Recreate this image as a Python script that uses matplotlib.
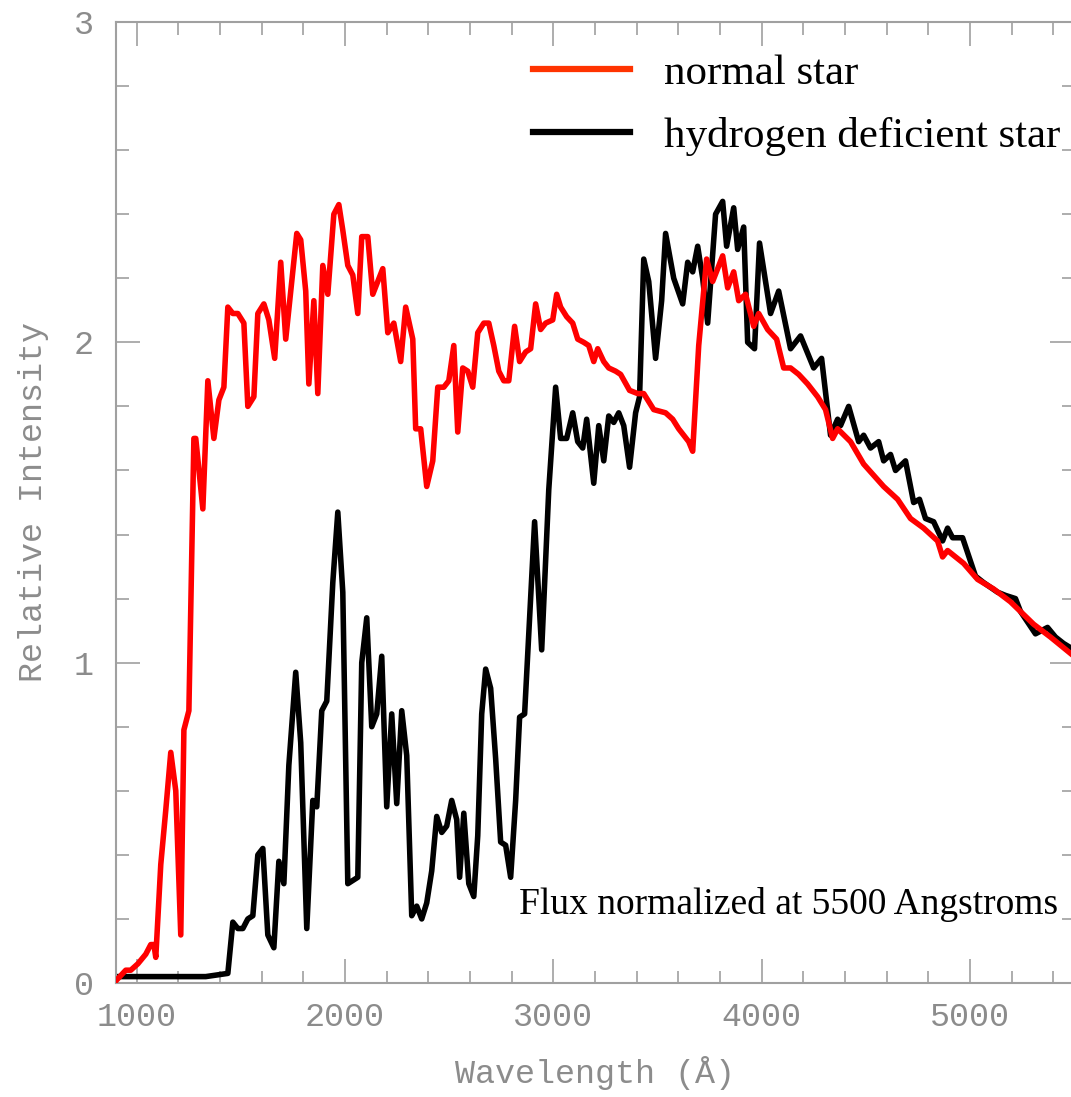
import matplotlib
matplotlib.use("Agg")
import matplotlib.pyplot as plt
from matplotlib.lines import Line2D
from matplotlib.ticker import MultipleLocator

# ---- data ----
normal_wl = [904, 947, 971, 1005, 1043, 1067, 1082, 1091, 1115, 1139, 1163, 1187, 1211,
             1226, 1250, 1274, 1283, 1317, 1341, 1370, 1394, 1418, 1437, 1461, 1485, 1514,
             1533, 1562, 1581, 1610, 1634, 1662, 1691, 1715, 1739, 1768, 1787, 1811, 1826,
             1850, 1869, 1893, 1917, 1946, 1970, 1989, 2013, 2037, 2061, 2080, 2109, 2133,
             2157, 2181, 2205, 2234, 2267, 2291, 2325, 2339, 2363, 2392, 2421, 2445, 2474,
             2498, 2522, 2541, 2565, 2589, 2613, 2637, 2666, 2690, 2714, 2738, 2762, 2786,
             2814, 2838, 2867, 2891, 2915, 2939, 2963, 2997, 3016, 3035, 3064, 3093, 3117,
             3146, 3170, 3194, 3213, 3242, 3266, 3299, 3323, 3366, 3405, 3434, 3482, 3539,
             3573, 3602, 3626, 3650, 3669, 3698, 3736, 3765, 3813, 3837, 3866, 3890, 3923,
             3962, 3986, 4029, 4072, 4106, 4139, 4178, 4221, 4269, 4307, 4341, 4365, 4427,
             4490, 4586, 4653, 4715, 4778, 4845, 4869, 4893, 4970, 5037, 5114, 5195, 5306,
             5387, 5500]
normal_flux = [0.01, 0.04, 0.04, 0.06, 0.09, 0.12, 0.12, 0.08, 0.37, 0.54, 0.72, 0.60, 0.15,
               0.79, 0.85, 1.70, 1.70, 1.48, 1.88, 1.70, 1.82, 1.86, 2.11, 2.09, 2.09, 2.06,
               1.80, 1.83, 2.09, 2.12, 2.07, 1.95, 2.25, 2.01, 2.16, 2.34, 2.32, 2.16, 1.87,
               2.13, 1.84, 2.24, 2.15, 2.40, 2.43, 2.35, 2.24, 2.21, 2.09, 2.33, 2.33, 2.15,
               2.19, 2.23, 2.03, 2.06, 1.94, 2.11, 2.01, 1.73, 1.73, 1.55, 1.63, 1.86, 1.86,
               1.88, 1.99, 1.72, 1.92, 1.91, 1.86, 2.03, 2.06, 2.06, 1.99, 1.91, 1.88, 1.88,
               2.05, 1.94, 1.97, 1.98, 2.12, 2.04, 2.06, 2.07, 2.15, 2.11, 2.08, 2.06, 2.01,
               2.00, 1.99, 1.94, 1.98, 1.94, 1.92, 1.91, 1.90, 1.85, 1.84, 1.84, 1.79, 1.78,
               1.76, 1.73, 1.71, 1.69, 1.66, 1.99, 2.26, 2.19, 2.27, 2.17, 2.22, 2.13, 2.15,
               2.05, 2.09, 2.04, 2.01, 1.92, 1.92, 1.90, 1.87, 1.83, 1.79, 1.70, 1.73, 1.69,
               1.62, 1.55, 1.51, 1.45, 1.42, 1.38, 1.33, 1.35, 1.31, 1.26, 1.23, 1.19, 1.12,
               1.08, 1.02]

hdef_wl = [904, 1211, 1331, 1437, 1461, 1485, 1509, 1533, 1557, 1581, 1605, 1629, 1658,
           1682, 1706, 1730, 1763, 1787, 1816, 1845, 1864, 1888, 1912, 1941, 1965, 1989,
           2013, 2037, 2061, 2080, 2104, 2128, 2152, 2176, 2200, 2224, 2248, 2272, 2296,
           2320, 2344, 2368, 2392, 2416, 2440, 2464, 2488, 2512, 2536, 2550, 2570, 2594,
           2618, 2637, 2656, 2675, 2699, 2723, 2747, 2771, 2795, 2819, 2838, 2862, 2910,
           2944, 2978, 3011, 3035, 3064, 3093, 3117, 3141, 3160, 3194, 3218, 3242, 3266,
           3290, 3314, 3338, 3366, 3395, 3414, 3434, 3458, 3491, 3520, 3539, 3578, 3621,
           3645, 3669, 3693, 3717, 3741, 3779, 3813, 3832, 3866, 3885, 3914, 3933, 3966,
           3990, 4043, 4082, 4139, 4187, 4250, 4288, 4331, 4365, 4379, 4418, 4466, 4490,
           4523, 4562, 4586, 4619, 4643, 4691, 4730, 4758, 4787, 4826, 4869, 4893, 4917,
           4965, 5027, 5066, 5133, 5171, 5219, 5243, 5315, 5373, 5411, 5450, 5500]
hdef_flux = [0.02, 0.02, 0.02, 0.03, 0.19, 0.17, 0.17, 0.20, 0.21, 0.40, 0.42, 0.15, 0.11,
             0.38, 0.31, 0.68, 0.97, 0.75, 0.17, 0.57, 0.55, 0.85, 0.88, 1.25, 1.47, 1.22,
             0.31, 0.32, 0.33, 1.00, 1.14, 0.80, 0.84, 1.02, 0.55, 0.84, 0.56, 0.85, 0.71,
             0.21, 0.24, 0.20, 0.25, 0.35, 0.52, 0.47, 0.49, 0.57, 0.51, 0.33, 0.53, 0.31,
             0.27, 0.46, 0.84, 0.98, 0.92, 0.70, 0.44, 0.43, 0.33, 0.57, 0.83, 0.84, 1.44,
             1.04, 1.54, 1.86, 1.70, 1.70, 1.78, 1.69, 1.67, 1.76, 1.56, 1.74, 1.63, 1.77,
             1.75, 1.78, 1.74, 1.61, 1.78, 1.83, 2.26, 2.19, 1.95, 2.13, 2.34, 2.20, 2.12,
             2.25, 2.22, 2.30, 2.20, 2.06, 2.40, 2.44, 2.30, 2.42, 2.29, 2.36, 2.00, 1.98,
             2.31, 2.09, 2.16, 1.98, 2.02, 1.92, 1.95, 1.71, 1.76, 1.74, 1.80, 1.69, 1.71,
             1.67, 1.69, 1.63, 1.65, 1.60, 1.63, 1.50, 1.51, 1.45, 1.44, 1.38, 1.42, 1.39,
             1.39, 1.27, 1.25, 1.22, 1.21, 1.20, 1.16, 1.09, 1.11, 1.08, 1.06, 1.04]

series_labels = ["normal star", "hydrogen deficient star"]
x_label = "Wavelength (Å)"
y_label = "Relative Intensity"
note = "Flux normalized at 5500 Angstroms"

# ---- figure ----
W, H = 1071, 1097
fig = plt.figure(figsize=(W / 100, H / 100), dpi=100)
ax = fig.add_axes([116 / W, (H - 983) / H, 958 / W, 961 / H])

ax.plot(normal_wl, normal_flux, color="#ff0000", lw=4.0, solid_joinstyle="round", zorder=3)
ax.plot(hdef_wl, hdef_flux, color="#000000", lw=4.0, solid_joinstyle="round", zorder=2)

ax.set_xlim(900, 5500)
ax.set_ylim(0, 3)

grey = "#8c8c8c"
mono = ["Liberation Mono", "DejaVu Sans Mono"]
for s in ax.spines.values():
    s.set_color("#a0a0a0")
    s.set_linewidth(1.5)

ax.xaxis.set_major_locator(MultipleLocator(1000))
ax.xaxis.set_minor_locator(MultipleLocator(200))
ax.yaxis.set_major_locator(MultipleLocator(1))
ax.yaxis.set_minor_locator(MultipleLocator(0.2))
ax.tick_params(which="both", direction="in", top=True, right=True, color="#a0a0a0",
               width=1.2, labelcolor=grey)
ax.tick_params(which="major", length=17)
ax.tick_params(which="minor", length=9)
ax.tick_params(axis="x", which="major", pad=14)
ax.tick_params(axis="y", which="major", pad=16)
for lab in ax.get_xticklabels() + ax.get_yticklabels():
    lab.set_family(mono)
    lab.set_fontsize(24)

ax.set_xlabel(x_label, family=mono, fontsize=24, color=grey, labelpad=16)
ax.set_ylabel(y_label, family=mono, fontsize=24, color=grey, labelpad=18)

serif = ["Liberation Serif", "DejaVu Serif"]
handles = [Line2D([], [], color="#ff3300", lw=4.5), Line2D([], [], color="#000000", lw=4.5)]
fig.legend(handles, series_labels, loc="upper left", bbox_to_anchor=(533 / W, 1 - 54 / H),
           frameon=False, prop={"family": serif, "size": 31}, handlelength=2.25,
           handletextpad=0.8, labelspacing=0.55, borderpad=0, borderaxespad=0)

ax.text(5426, 0.245, note, family=serif, fontsize=27, ha="right", va="center", color="black")

fig.savefig("out.png", dpi=100)
